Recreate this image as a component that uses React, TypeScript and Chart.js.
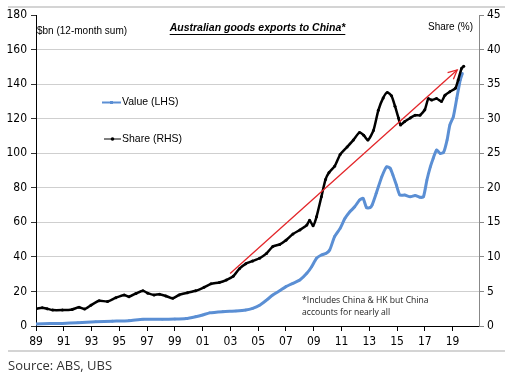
import React, { useEffect, useRef } from 'react';
import { Chart, registerables } from 'chart.js';

Chart.register(...registerables);

// X-axis tick years (labels shown as two digits)
const xTickYears = [1989, 1991, 1993, 1995, 1997, 1999, 2001, 2003, 2005, 2007, 2009, 2011, 2013, 2015, 2017, 2019];

// Share of exports (RHS, %)
const shareYears = [1989.0, 1989.45, 1989.8, 1990.2, 1990.9, 1991.6, 1992.1, 1992.5, 1992.95, 1993.55, 1994.15, 1994.75, 1995.35, 1995.7, 1996.2, 1996.7, 1997.05, 1997.5, 1997.9, 1998.35, 1998.85, 1999.3, 1999.9, 2000.5, 2001.1, 2001.6, 2002.2, 2002.7, 2003.2, 2003.65, 2004.1, 2004.6, 2005.1, 2005.6, 2006.05, 2006.55, 2007.0, 2007.5, 2008.0, 2008.5, 2008.7, 2008.95, 2009.2, 2009.55, 2009.85, 2010.1, 2010.5, 2010.9, 2011.4, 2011.85, 2012.3, 2012.6, 2012.9, 2013.3, 2013.65, 2014.0, 2014.3, 2014.6, 2014.85, 2015.1, 2015.25, 2015.55, 2015.95, 2016.3, 2016.65, 2017.0, 2017.25, 2017.5, 2017.85, 2018.2, 2018.45, 2018.8, 2019.2, 2019.4, 2019.65, 2019.8];
const shareValues = [2.5, 2.65, 2.5, 2.3, 2.3, 2.4, 2.7, 2.45, 3.0, 3.65, 3.55, 4.1, 4.5, 4.25, 4.7, 5.1, 4.75, 4.5, 4.6, 4.35, 4.0, 4.5, 4.8, 5.1, 5.6, 6.1, 6.3, 6.65, 7.2, 8.3, 9.0, 9.4, 9.8, 10.5, 11.5, 11.8, 12.4, 13.3, 13.9, 14.6, 15.3, 14.5, 15.8, 18.7, 21.2, 22.2, 23.1, 24.8, 25.9, 26.9, 28.0, 27.6, 26.9, 28.3, 31.2, 33.0, 33.8, 33.3, 31.8, 30.1, 29.1, 29.6, 30.1, 30.5, 30.5, 31.3, 32.9, 32.7, 32.9, 32.5, 33.4, 33.9, 34.4, 35.6, 37.3, 37.6];

// Value of exports (LHS, $bn 12-month sum)
const valueYears = [1989.0, 1990.0, 1990.9, 1992.0, 1993.3, 1994.5, 1995.7, 1996.7, 1998.1, 1999.0, 1999.8, 2000.5, 2001.0, 2001.5, 2002.45, 2003.4, 2004.1, 2004.6, 2005.1, 2005.6, 2006.05, 2006.55, 2007.0, 2007.5, 2008.0, 2008.5, 2008.85, 2009.2, 2009.55, 2009.9, 2010.15, 2010.5, 2010.9, 2011.25, 2011.6, 2011.95, 2012.3, 2012.55, 2012.8, 2013.05, 2013.2, 2013.5, 2013.9, 2014.25, 2014.5, 2014.7, 2014.95, 2015.2, 2015.55, 2015.95, 2016.3, 2016.65, 2016.9, 2017.15, 2017.4, 2017.6, 2017.85, 2018.1, 2018.35, 2018.6, 2018.8, 2019.05, 2019.3, 2019.55, 2019.7];
const valueValues = [1.2, 1.4, 1.5, 1.9, 2.5, 2.8, 3.1, 3.9, 3.9, 4.0, 4.3, 5.4, 6.4, 7.6, 8.3, 8.7, 9.2, 10.2, 12.0, 15.0, 17.9, 20.4, 22.8, 24.7, 26.6, 30.5, 34.3, 39.2, 41.1, 42.1, 44.0, 51.7, 56.5, 62.3, 66.1, 69.0, 72.9, 73.9, 68.5, 68.5, 70.0, 76.8, 86.4, 92.2, 91.3, 87.4, 81.6, 75.8, 75.8, 74.8, 75.5, 74.5, 74.8, 84.5, 92.2, 97.0, 101.9, 99.9, 100.5, 107.6, 116.3, 121.1, 131.8, 142.4, 146.2];

// Trend arrow (on RHS share scale)
const trendYears = [2002.98, 2019.33];
const trendShares = [7.6, 37.05];

const zip = (xs: number[], ys: number[]) => xs.map((x, i) => ({ x, y: ys[i] }));

const NARROW = '"Liberation Sans Narrow", "Arial Narrow", "DejaVu Sans Condensed", sans-serif';
const ARIAL = '"Liberation Sans", Arial, sans-serif';

const decoPlugin = {
  id: 'deco',
  afterDatasetsDraw(chart: any) {
    const ctx = chart.ctx;
    const meta = chart.getDatasetMeta(2);
    const p0 = meta.data[0];
    const p1 = meta.data[1];
    if (!p0 || !p1) return;
    const ang = Math.atan2(p1.y - p0.y, p1.x - p0.x);
    const len = 10;
    const spread = 0.45;
    ctx.save();
    ctx.strokeStyle = '#e3262a';
    ctx.lineWidth = 1.3;
    ctx.beginPath();
    ctx.moveTo(p1.x - len * Math.cos(ang - spread), p1.y - len * Math.sin(ang - spread));
    ctx.lineTo(p1.x, p1.y);
    ctx.lineTo(p1.x - len * Math.cos(ang + spread), p1.y - len * Math.sin(ang + spread));
    ctx.stroke();
    ctx.restore();
  },
  afterDraw(chart: any) {
    const ctx = chart.ctx;
    ctx.save();
    // separator lines
    ctx.strokeStyle = '#d4d4d4';
    ctx.lineWidth = 2;
    ctx.beginPath();
    ctx.moveTo(8, 7);
    ctx.lineTo(505, 7);
    ctx.moveTo(8, 351);
    ctx.lineTo(505, 351);
    ctx.stroke();

    ctx.fillStyle = '#000';
    ctx.textBaseline = 'middle';
    // axis titles
    ctx.font = `10px ${ARIAL}`;
    ctx.textAlign = 'left';
    ctx.fillText('$bn (12-month sum)', 37, 31);
    ctx.fillText('Share (%)', 428, 27);

    // title
    ctx.font = `italic bold 10.5px ${ARIAL}`;
    const title = 'Australian goods exports to China*';
    const tw = ctx.measureText(title).width;
    const tx = 257.5 - tw / 2;
    ctx.fillText(title, tx, 28);
    ctx.strokeStyle = '#000';
    ctx.lineWidth = 1;
    ctx.beginPath();
    ctx.moveTo(tx, 34.5);
    ctx.lineTo(tx + tw, 34.5);
    ctx.stroke();

    // legend
    ctx.font = `10.5px ${ARIAL}`;
    ctx.strokeStyle = '#5b8fd4';
    ctx.lineWidth = 2;
    ctx.beginPath();
    ctx.moveTo(102, 102.5);
    ctx.lineTo(121, 102.5);
    ctx.stroke();
    ctx.fillStyle = '#5b8fd4';
    ctx.fillRect(110, 101, 3, 3);
    ctx.fillStyle = '#000';
    ctx.fillText('Value (LHS)', 122, 102.5);

    ctx.strokeStyle = '#000';
    ctx.lineWidth = 1;
    ctx.beginPath();
    ctx.moveTo(104, 139);
    ctx.lineTo(121, 139);
    ctx.stroke();
    ctx.beginPath();
    ctx.arc(112.5, 139, 1.8, 0, Math.PI * 2);
    ctx.fill();
    ctx.fillText('Share (RHS)', 122, 139);

    // footnote
    ctx.font = `8.6px "Open Sans", sans-serif`;
    ctx.fillStyle = '#222';
    ctx.fillText('*Includes China & HK but China', 302, 300.5);
    ctx.fillText('accounts for nearly all', 302, 312.5);

    // source
    ctx.font = `13px "Open Sans", sans-serif`;
    ctx.fillStyle = '#333';
    ctx.fillText('Source: ABS, UBS', 8, 366.5);
    ctx.restore();
  },
};

export default function App() {
  const ref = useRef<HTMLCanvasElement | null>(null);
  useEffect(() => {
    if (!ref.current) return;
    const chart = new Chart(ref.current, {
      type: 'line',
      data: {
        datasets: [
          {
            label: 'Value (LHS)',
            data: zip(valueYears, valueValues),
            yAxisID: 'y',
            borderColor: '#5b8fd4',
            backgroundColor: '#5b8fd4',
            borderWidth: 3,
            pointRadius: 1.3,
            pointBorderWidth: 0,
            tension: 0.2,
            order: 2,
          },
          {
            label: 'Share (RHS)',
            data: zip(shareYears, shareValues),
            yAxisID: 'y2',
            borderColor: '#000',
            backgroundColor: '#000',
            borderWidth: 2.5,
            pointRadius: 1.5,
            pointBorderWidth: 0,
            tension: 0.2,
            order: 1,
          },
          {
            label: 'trend',
            data: zip(trendYears, trendShares),
            yAxisID: 'y2',
            borderColor: '#e3262a',
            borderWidth: 1.3,
            pointRadius: 0,
            order: 0,
          },
        ],
      },
      options: {
        animation: false,
        responsive: false,
        maintainAspectRatio: false,
        layout: { padding: { top: 15, left: 0, right: 0, bottom: 0 } },
        plugins: { legend: { display: false }, tooltip: { enabled: false } },
        scales: {
          x: {
            type: 'linear',
            min: 1989,
            max: 2020.9,
            afterBuildTicks: (s: any) => {
              s.ticks = xTickYears.map((v) => ({ value: v }));
            },
            afterFit: (s: any) => {
              s.height = 54;
            },
            ticks: {
              autoSkip: false,
              maxRotation: 0,
              padding: 4,
              color: '#000',
              font: { family: NARROW, size: 12 },
              callback: (v: any) => String(Number(v) % 100).padStart(2, '0'),
            },
            grid: { drawOnChartArea: false, drawTicks: true, tickLength: 5, tickColor: '#000' },
            border: { color: '#000', width: 1 },
          },
          y: {
            position: 'left',
            min: 0,
            max: 180,
            afterFit: (s: any) => {
              s.width = 36;
            },
            ticks: { stepSize: 20, padding: 4, color: '#000', font: { family: NARROW, size: 12 } },
            grid: {
              color: (c: any) => (c.tick && (c.tick.value === 0 || c.tick.value === 180) ? 'rgba(0,0,0,0)' : '#cfcfcf'),
              lineWidth: 1,
              tickLength: 5,
              tickColor: '#333',
            },
            border: { color: '#000', width: 1 },
          },
          y2: {
            position: 'right',
            min: 0,
            max: 45,
            afterFit: (s: any) => {
              s.width = 34;
            },
            ticks: { stepSize: 5, padding: 3, color: '#000', font: { family: NARROW, size: 12 } },
            grid: { drawOnChartArea: false, tickLength: 5, tickColor: '#888' },
            border: { color: '#888', width: 1 },
          },
        },
      },
      plugins: [decoPlugin],
    } as any);
    return () => chart.destroy();
  }, []);
  return (
    <div style={{ position: 'fixed', left: 0, top: 0, width: 513, height: 380, background: '#fff' }}>
      <canvas ref={ref} width={513} height={380} style={{ width: 513, height: 380 }} />
    </div>
  );
}
